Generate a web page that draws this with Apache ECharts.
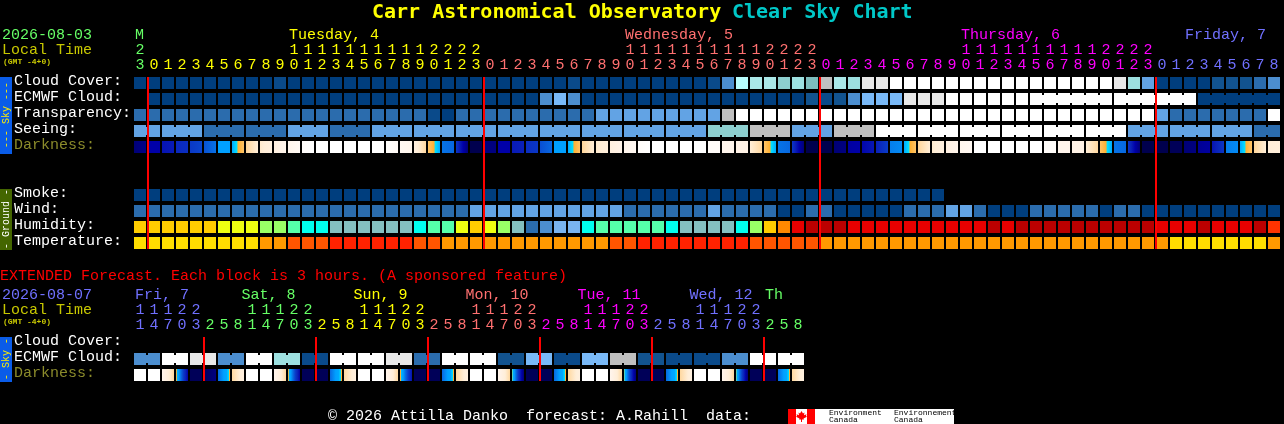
<!DOCTYPE html>
<html><head><meta charset="utf-8">
<style>html,body{margin:0;padding:0;background:#000}#c{width:1284px;height:424px}</style>
<script src="https://cdn.jsdelivr.net/npm/echarts@6/dist/echarts.min.js"></script>
</head><body><div id="c"></div>
<script>
const cloudCover=[0,0,0,0,0,0,0,0,0,0,1,0,0,0,0,0,0,0,0,0,0,0,0,0,0,0,0,0,0,0,0,1,0,0,0,0,0,0,0,0,0,1,4,7,8,8,10,9,11,12,8,9,13,13,14,14,14,14,14,14,14,14,14,14,14,14,14,14,14,14,13,9,5,0,0,0,0,2,2,2,3,4];
const ecmwfCloud=[null,0,0,0,0,0,0,0,0,0,0,0,0,0,0,0,0,0,0,0,0,0,0,0,0,0,0,0,0,4,6,4,0,0,0,0,0,0,0,0,0,0,0,0,0,0,0,0,2,1,2,4,6,6,6,13,13,13,14,14,14,14,14,14,14,14,14,14,14,14,14,14,14,14,14,14,0,0,0,0,0,0];
const transparency=[3,3,3,3,3,3,3,3,3,3,3,3,3,3,3,3,3,3,3,3,3,1,0,3,3,3,3,3,3,3,3,3,3,5,5,5,5,5,5,5,5,5,12,14,14,14,14,14,14,14,14,14,14,14,14,14,14,14,14,14,14,14,14,14,14,14,14,14,14,14,14,14,14,5,3,3,3,3,3,3,3,14];
const seeing=[5,5,5,5,5,3,3,3,3,3,3,5,5,5,3,3,3,5,5,5,5,5,5,5,5,5,5,5,5,5,5,5,5,5,5,5,5,5,5,5,5,10,10,10,12,12,12,5,5,5,12,12,12,14,14,14,14,14,14,14,14,14,14,14,14,14,14,14,14,14,14,5,5,5,5,5,5,5,5,5,3,3];
const darkStart=[.8,2,2.6,3.3,3.9,4.5,6,6.5,7.9,8.8,9.5,10.5,11.5,12,12,12,12,12,11.8,11,9.5,7.5,5.2,3.8,0,1,2,2.8,3.5,4.4,6,6.5,7.9,8.8,9.5,10.5,11.5,12,12,12,12,11.5,10.5,10,9,7.5,5.2,3.8,0,0,.8,1.8,2.2,3,5.4,6.5,7.9,8.8,9.6,10.6,12,12,12,12,12,11.5,10.5,10,9,7.5,5.2,3.8,0,0,.2,.8,1.5,2.6,5.4,6.5,7.9,9];
const darkEnd=[1.2,2,2.8,3.5,4.2,5.2,6,7.5,9,9.4,10.5,11.2,12,12,12,12,12,12,11.2,10.6,8,6.5,5,.8,0,1,2,3,3.8,5,6,7.5,9,9.2,10.2,11,12,12,12,12,12,11.5,10.5,10,8,6.5,5,.8,0,0,1,2,2.7,4,5.6,7.5,9,9.5,10.4,11,12,12,12,12,12,11.5,10.5,10,8,6.5,5,.8,0,0,.2,1,1.8,3.8,5.6,7.5,9,9.2];
const smoke=[0,0,0,0,0,0,0,0,0,0,0,0,0,0,0,0,0,0,0,0,0,0,0,0,0,0,0,0,0,0,0,0,0,0,0,0,0,0,0,0,0,0,0,0,0,0,0,0,0,0,0,0,0,0,0,0,0,0,null,null,null,null,null,null,null,null,null,null,null,null,null,null,null,null,null,null,null,null,null,null,null,null];
const wind=[3,3,3,3,3,3,3,3,3,3,3,3,3,3,3,3,3,3,3,3,3,3,3,3,5,5,5,5,5,5,5,5,5,5,5,3,3,3,3,3,3,5,3,3,3,3,0,0,3,3,0,0,0,0,0,3,3,3,5,5,3,0,0,0,3,3,3,3,3,0,3,3,0,0,0,0,0,0,0,0,0,0];
const humidity=[4,4,4,4,4,4,5,5,5,6,6,7,8,8,9,9,9,9,9,9,8,7,7,5,4,5,6,9,10,11,12,12,8,7,7,7,7,7,8,9,9,9,9,8,6,4,3,1,0,0,0,1,1,1,1,1,1,1,1,1,1,0,1,0,0,0,0,0,0,0,0,0,0,1,1,1,0,1,1,1,0,2];
const temperature=[3,3,3,3,3,3,3,3,3,2,2,1,1,1,0,0,0,0,0,0,1,1,2,2,2,2,2,2,2,2,2,2,2,2,1,1,0,0,0,0,0,0,0,0,1,1,1,1,1,2,2,2,2,2,2,2,2,2,2,2,2,2,2,2,2,2,2,2,2,2,2,2,2,2,3,3,3,3,3,3,3,2];
const hourOnes=['3','0','1','2','3','4','5','6','7','8','9','0','1','2','3','4','5','6','7','8','9','0','1','2','3','0','1','2','3','4','5','6','7','8','9','0','1','2','3','4','5','6','7','8','9','0','1','2','3','0','1','2','3','4','5','6','7','8','9','0','1','2','3','4','5','6','7','8','9','0','1','2','3','0','1','2','3','4','5','6','7','8'];
const hourTens=['2','','','','','','','','','','','1','1','1','1','1','1','1','1','1','1','2','2','2','2','','','','','','','','','','','1','1','1','1','1','1','1','1','1','1','2','2','2','2','','','','','','','','','','','1','1','1','1','1','1','1','1','1','1','2','2','2','2','','','','','','','','',''];
const hourDay=[0,1,1,1,1,1,1,1,1,1,1,1,1,1,1,1,1,1,1,1,1,1,1,1,1,2,2,2,2,2,2,2,2,2,2,2,2,2,2,2,2,2,2,2,2,2,2,2,2,3,3,3,3,3,3,3,3,3,3,3,3,3,3,3,3,3,3,3,3,3,3,3,3,4,4,4,4,4,4,4,4,4];
const dayNames=['M','Tuesday, 4','Wednesday, 5','Thursday, 6','Friday, 7'];
const dayCols=[0,11,35,59,75];
const midnights=[1,25,49,73];
const mainRows=['Cloud Cover:','ECMWF Cloud:','Transparency:','Seeing:','Darkness:','','','Smoke:','Wind:','Humidity:','Temperature:'];
const extEcmwf=[4,4,14,14,13,13,4,4,14,14,9,9,1,1,14,14,14,14,13,13,3,3,14,14,14,14,2,2,6,6,1,1,6,6,12,12,2,2,1,1,1,1,4,4,14,14,14,14];
const extDarkStart=[12,12,10.5,7.2,.2,.3,5,8,12,12,10.5,7.2,.2,.2,5,8,12,12,10.5,7.2,.2,.2,5,8,12,12,10.5,7.2,.2,.2,5,8,12,12,10.5,7.2,.2,.2,5,8,12,12,10.5,7.2,.2,.2,5,8];
const extDarkEnd=[12,12,8,2,.2,1,7.1,9.5,12,12,8,2,.2,.2,7.1,9.5,12,12,8,2.5,.2,.2,7.1,9.5,12,12,8,.8,.2,.2,7.1,9.5,12,12,8,.8,.2,.2,7.1,9.5,12,12,8,.8,.2,.2,7.1,9.5];
const extOnes=['1','4','7','0','3','2','5','8','1','4','7','0','3','2','5','8','1','4','7','0','3','2','5','8','1','4','7','0','3','2','5','8','1','4','7','0','3','2','5','8','1','4','7','0','3','2','5','8'];
const extTens=['1','1','1','2','2','','','','1','1','1','2','2','','','','1','1','1','2','2','','','','1','1','1','2','2','','','','1','1','1','2','2','','','','1','1','1','2','2','','',''];
const extHourDay=[4,4,4,4,4,0,0,0,0,0,0,0,0,1,1,1,1,1,1,1,1,2,2,2,2,2,2,2,2,3,3,3,3,3,3,3,3,4,4,4,4,4,4,4,4,0,0,0];
const extDayNames=['Fri, 7','Sat, 8','Sun, 9','Mon, 10','Tue, 11','Wed, 12','Th'];
const extDayCols=[0,7.6,15.6,23.6,31.6,39.6,45];
const extDayHue=[4,0,1,2,3,4,0];
const extMidnights=[5,13,21,29,37,45];
const extRows=['Cloud Cover:','ECMWF Cloud:','Darkness:'];
const skyPalette=['#003e7e','#0a4a8a','#12538f','#2b6cad','#4c8ecf','#62a3e4','#79b9f7','#b8fefe','#aae8e8','#9de0e0','#8dcfcf','#7dbcbc','#bfbfbf','#e8e8e8','#ffffff'];
const humPalette=['#bb0000','#e80000','#ff3300','#ff8800','#ffcc00','#eeff11','#99ff66','#55ffaa','#00ffee','#84c0c0','#2b6cad','#4c8ecf','#79b4f0'];
const tempPalette=['#ff2200','#ff5500','#ff9900','#ffdd00'];
const darkRamp=[[0,'#00004e'],[1,'#000080'],[2,'#0000a8'],[3,'#0a20b8'],[4,'#0a3cc8'],[5,'#0868e0'],[6,'#00a0ff'],[6.5,'#00a8ff'],[6.9,'#00e0ff'],[7,'#ffb030'],[8,'#ffd8a0'],[9,'#ffeed8'],[10,'#fff2e6'],[11,'#fff8f2'],[12,'#ffffff']];
const dayHue=['#66ff66','#ffff00','#ff7070','#ff00ff','#7070ff'];
const MONO='"Liberation Mono"';
const TITLE='"DejaVu Sans Mono"';

function hex(c){return [1,3,5].map(i=>parseInt(c.substr(i,2),16));}
function rampColor(d){
  for(let i=1;i<darkRamp.length;i++){
    if(d<=darkRamp[i][0]){
      const [a,ca]=darkRamp[i-1],[b,cb]=darkRamp[i];
      const t=(d-a)/(b-a),x=hex(ca),y=hex(cb);
      return 'rgb('+x.map((v,k)=>Math.round(v+(y[k]-v)*t)).join(',')+')';
    }
  }
  return '#ffffff';
}
function darkFill(a,b){
  if(a===b) return rampColor(a);
  const stops=[{offset:0,color:rampColor(a)}];
  const lo=Math.min(a,b),hi=Math.max(a,b),inner=[];
  darkRamp.forEach(s=>{ if(s[0]>lo&&s[0]<hi) inner.push({offset:(s[0]-a)/(b-a),color:s[1]}); });
  inner.sort((p,q)=>p.offset-q.offset);
  return new echarts.graphic.LinearGradient(0,0,1,0,stops.concat(inner,[{offset:1,color:rampColor(b)}]));
}
const seeingJoin=c=>(c+1)%3!==2;
const ecmwfJoin=c=>c>=64&&(c-63)%6!==0;
const extJoin=c=>c%2===0;
function rowSeries(name,axis,row,n,fillOf,joinOf){
  const data=[];for(let c=0;c<n;c++)data.push([c,row]);
  return {type:'custom',name,xAxisIndex:axis,yAxisIndex:axis,silent:true,animation:false,z:2,clip:false,data,
    renderItem(p,api){
      const col=api.value(0),fill=fillOf(col);
      if(fill==null)return null;
      const ct=api.coord([col,api.value(1)]),sz=api.size([1,1]);
      const w=sz[0]-2,h=sz[1]-4,x=ct[0]-w/2,y=ct[1]-h/2;
      const kids=[{type:'rect',shape:{x,y,width:w,height:h},style:{fill}}];
      if(joinOf&&joinOf(col)&&col<n-1)kids.push({type:'rect',shape:{x:x+w,y:y+2,width:2,height:h-4},style:{fill}});
      return {type:'group',children:kids};
    }};
}
function levelFill(vals,pal){return c=>vals[c]==null?null:pal[vals[c]];}
function lineSeries(axis,cols,firstRow,lastRow){
  return {type:'custom',name:'midnight',xAxisIndex:axis,yAxisIndex:axis,silent:true,animation:false,z:5,clip:false,
    data:cols.map(c=>[c,firstRow,lastRow]),
    renderItem(p,api){
      const a=api.coord([api.value(0),api.value(1)]),b=api.coord([api.value(0),api.value(2)]),sz=api.size([1,1]);
      return {type:'rect',shape:{x:a[0]-(sz[0]-2)/2-1,y:a[1]-(sz[1]-4)/2,width:2,height:b[1]-a[1]+sz[1]-4},style:{fill:'#ff0000'}};
    }};
}
function dayLabelSeries(axis,cols,names,hue){
  return {type:'custom',name:'days',xAxisIndex:axis,yAxisIndex:axis,silent:true,animation:false,z:3,clip:false,
    data:cols.map((c,i)=>[Math.floor(c),0,i]),
    renderItem(p,api){
      const i=api.value(2),ct=api.coord([api.value(0),0]),sz=api.size([1,1]),frac=cols[i]-Math.floor(cols[i]);
      return {type:'text',style:{text:names[i],x:ct[0]-(sz[0]-2)/2+frac*sz[0]+1,y:ct[1]-48,fill:dayHue[hue[i]],font:'15px '+MONO,verticalAlign:'middle',align:'left'}};
    }};
}
function hourAxis(grid,labels,hueOf,offset){
  return {type:'category',gridIndex:grid,position:'top',offset,data:labels,
    axisLine:{show:false},axisTick:{show:false},splitLine:{show:false},
    axisLabel:{show:true,interval:0,hideOverlap:false,margin:10,verticalAlign:'middle',fontFamily:MONO,fontSize:15,color:(v,i)=>dayHue[hueOf[i]]}};
}
function rowAxis(grid,rows){
  return {type:'category',gridIndex:grid,inverse:true,data:rows,
    axisLine:{show:false},axisTick:{show:false},splitLine:{show:false},
    axisLabel:{show:true,interval:0,align:'left',margin:119,verticalAlign:'bottom',lineHeight:3,fontFamily:MONO,fontSize:15,color:v=>v==='Darkness:'?'#8b8b2b':'#ffffff'}};
}
function txt(x,y,text,fill,font){return {type:'text',x,y,silent:true,style:{text,fill,font,verticalAlign:'middle',align:'left'}};}
function band(x,y,w,h,fill){return {type:'rect',silent:true,shape:{x,y,width:w,height:h},style:{fill}};}
function vtxt(cx,cy,text,fill){return {type:'text',x:cx,y:cy,rotation:Math.PI/2,silent:true,style:{text,fill,font:'10px '+MONO,align:'center',verticalAlign:'middle'}};}
function leaf(cx,cy){
  const p=[[0,-6],[1.5,-3],[3,-4],[2.5,-1],[5,-2],[4.5,0],[5.5,1],[2,3],[2.5,4],[.5,4],[.5,7],[-.5,7],[-.5,4],[-2.5,4],[-2,3],[-5.5,1],[-4.5,0],[-5,-2],[-2.5,-1],[-3,-4],[-1.5,-3]];
  return {type:'polygon',silent:true,shape:{points:p.map(q=>[cx+q[0],cy+q[1]*.85])},style:{fill:'#ff0000'}};
}
const chart=echarts.init(document.getElementById('c'),null,{renderer:'canvas',width:1284,height:424});
chart.setOption({
  backgroundColor:'#000000',animation:false,
  grid:[{left:133,top:75,width:1148,height:176},{left:133,top:335,width:672,height:48}],
  xAxis:[hourAxis(0,hourOnes,hourDay,0),hourAxis(1,extOnes,extHourDay,0),hourAxis(0,hourTens,hourDay,15),hourAxis(1,extTens,extHourDay,15)],
  yAxis:[rowAxis(0,mainRows),rowAxis(1,extRows)],
  series:[
    rowSeries('Cloud Cover',0,0,82,levelFill(cloudCover,skyPalette)),
    rowSeries('ECMWF Cloud',0,1,82,levelFill(ecmwfCloud,skyPalette),ecmwfJoin),
    rowSeries('Transparency',0,2,82,levelFill(transparency,skyPalette)),
    rowSeries('Seeing',0,3,82,levelFill(seeing,skyPalette),seeingJoin),
    rowSeries('Darkness',0,4,82,c=>darkFill(darkStart[c],darkEnd[c])),
    rowSeries('Smoke',0,7,82,levelFill(smoke,skyPalette)),
    rowSeries('Wind',0,8,82,levelFill(wind,skyPalette)),
    rowSeries('Humidity',0,9,82,levelFill(humidity,humPalette)),
    rowSeries('Temperature',0,10,82,levelFill(temperature,tempPalette)),
    lineSeries(0,midnights,0,10),
    dayLabelSeries(0,dayCols,dayNames,[0,1,2,3,4]),
    rowSeries('Ext ECMWF',1,1,48,levelFill(extEcmwf,skyPalette),extJoin),
    rowSeries('Ext Darkness',1,2,48,c=>darkFill(extDarkStart[c],extDarkEnd[c])),
    lineSeries(1,extMidnights,0,2),
    dayLabelSeries(1,extDayCols,extDayNames,extDayHue)
  ],
  graphic:{elements:[
    txt(372,13,'Carr Astronomical Observatory','#ffff00','bold 20px '+TITLE),
    txt(732,13,'Clear Sky Chart','#00c8c8','bold 20px '+TITLE),
    txt(2,35,'2026-08-03','#66ff66','15px '+MONO),
    txt(2,50,'Local Time','#c8c800','15px '+MONO),
    txt(3,62,'(GMT -4+0)','#c8c800','bold 8px '+MONO),
    band(0,77,12,77,'#0a5ce8'),vtxt(6,115,'--- Sky ---','#ffee00'),
    band(0,189,12,61,'#446600'),vtxt(6,219,'- Ground -','#ffffff'),
    txt(0,276,'EXTENDED Forecast. Each block is 3 hours. (A sponsored feature)','#ff0000','15px '+MONO),
    txt(2,295,'2026-08-07','#7070ff','15px '+MONO),
    txt(2,310,'Local Time','#c8c800','15px '+MONO),
    txt(3,322,'(GMT -4+0)','#c8c800','bold 8px '+MONO),
    band(0,337,12,45,'#0a5ce8'),vtxt(6,359,'- Sky -','#ffee00'),
    txt(328,416,'\u00a9 2026 Attilla Danko  forecast: A.Rahill  data:','#ffffff','15px '+MONO),
    band(788,409,166,15,'#ffffff'),band(788,409,8,15,'#ff0000'),band(807,409,8,15,'#ff0000'),leaf(801.5,416),
    txt(829,413,'Environment','#000000','8px '+MONO),txt(829,420,'Canada','#000000','8px '+MONO),
    txt(894,413,'Environnement','#000000','8px '+MONO),txt(894,420,'Canada','#000000','8px '+MONO)
  ]}
});
</script></body></html>
